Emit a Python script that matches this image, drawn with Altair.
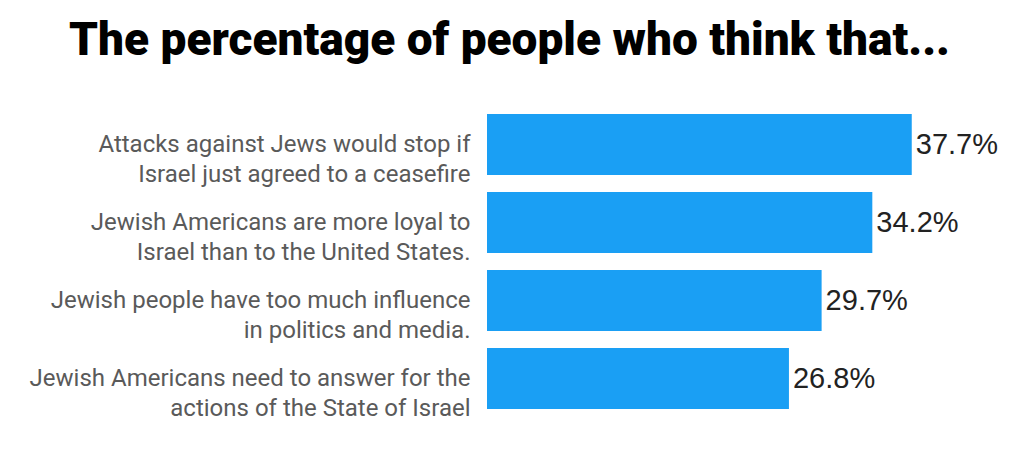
import altair as alt
import pandas as pd

statements = [
    "Attacks against Jews would stop if|Israel just agreed to a ceasefire",
    "Jewish Americans are more loyal to|Israel than to the United States.",
    "Jewish people have too much influence|in politics and media.",
    "Jewish Americans need to answer for the|actions of the State of Israel",
]
percentages = [37.7, 34.2, 29.7, 26.8]
value_labels = ["37.7%", "34.2%", "29.7%", "26.8%"]

df = pd.DataFrame({"statement": statements, "pct": percentages, "label": value_labels})

y_enc = alt.Y(
    "statement:N",
    sort=None,
    scale=alt.Scale(paddingInner=0.22, paddingOuter=0.11),
    axis=alt.Axis(
        title=None,
        domain=False,
        ticks=False,
        tickSize=0,
        labelPadding=17,
        labelFont="Roboto",
        labelFontSize=24,
        labelColor="#5a5a5a",
        labelLineHeight=30,
        labelLimit=0,
        labelExpr="split(datum.label, '|')",
    ),
)
x_enc = alt.X("pct:Q", scale=alt.Scale(domain=[0, 45]), axis=None)

bars = alt.Chart(df).mark_bar(color="#1a9ff4").encode(x=x_enc, y=y_enc)
texts = alt.Chart(df).mark_text(
    align="left", baseline="middle", dx=4, font="Liberation Sans", fontSize=29, color="#222222"
).encode(x=x_enc, y=alt.Y("statement:N", sort=None), text="label:N")

chart = (
    alt.layer(bars, texts)
    .properties(
        width=507,
        height=312,
        autosize=alt.AutoSizeParams(type="none"),
        padding={"left": 479, "top": 97.5, "right": 10, "bottom": 20},
        title=alt.TitleParams(
            "The percentage of people who think that...",
            font="Roboto",
            fontSize=46,
            fontWeight=900,
            color="#000000",
            anchor="middle",
            frame="group",
            baseline="alphabetic",
            offset=5,
            dx=-231,
        ),
    )
    .configure(background="white")
    .configure_view(strokeWidth=0)
)

chart.save("out.html", embed_options={"renderer": "svg", "actions": False})
